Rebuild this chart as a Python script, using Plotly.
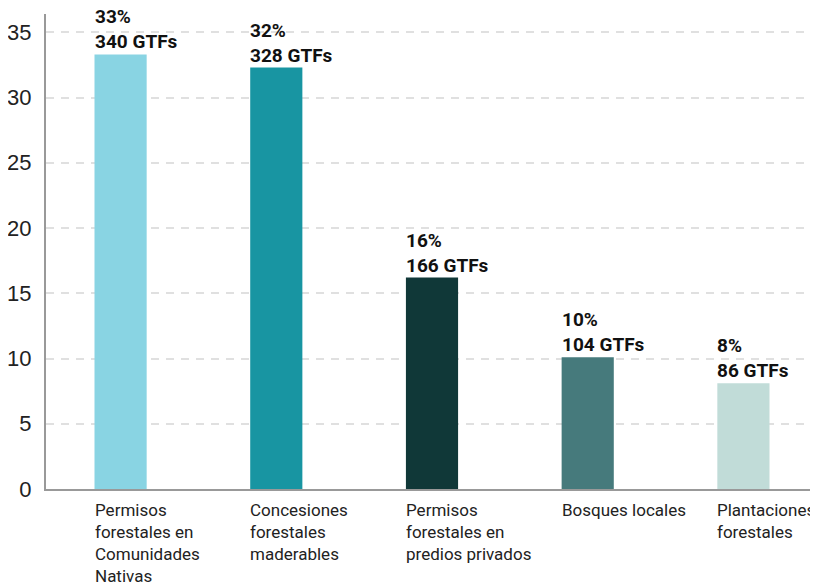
import plotly.graph_objects as go

# data
categories = [
    "Permisos<br>forestales en<br>Comunidades<br>Nativas",
    "Concesiones<br>forestales<br>maderables",
    "Permisos<br>forestales en<br>predios privados",
    "Bosques locales",
    "Plantaciones<br>forestales",
]
values = [33.3, 32.3, 16.2, 10.1, 8.1]
pct_labels = ["33%", "32%", "16%", "10%", "8%"]
gtf_counts = [340, 328, 166, 104, 86]
colors = ["#89D4E3", "#1895A2", "#103838", "#467A7C", "#C1DCD8"]
y_ticks = [0, 5, 10, 15, 20, 25, 30, 35]

idx = list(range(len(categories)))

fig = go.Figure()
fig.add_trace(
    go.Bar(
        x=idx,
        y=values,
        marker=dict(color=colors, line=dict(width=0)),
        width=0.335,
        hoverinfo="skip",
    )
)

# value labels above each bar, left aligned with bar edge
for i, v, p, n in zip(idx, values, pct_labels, gtf_counts):
    fig.add_annotation(
        x=i, y=v, xref="x", yref="y",
        text=f"<b>{p}<br>{n} GTFs</b>",
        showarrow=False, xanchor="left", yanchor="bottom", align="left",
        xshift=-28, yshift=-1,
        font=dict(family="Roboto", size=19, color="#111111"),
    )

# category labels under the axis, left aligned
for i, c in zip(idx, categories):
    fig.add_annotation(
        x=i, y=0, xref="x", yref="y",
        text=c,
        showarrow=False, xanchor="left", yanchor="top", align="left",
        xshift=-28, yshift=-9,
        font=dict(family="Roboto", size=17, color="#222222"),
    )

# the page body adds an 8px offset, so margins are set 8px tighter
fig.update_layout(
    width=818, height=582,
    margin=dict(l=38, r=8, t=6, b=101, autoexpand=False),
    paper_bgcolor="white", plot_bgcolor="white",
    showlegend=False,
    font=dict(family="Roboto"),
    xaxis=dict(
        range=[-0.479, 4.479],
        showticklabels=False, showgrid=False, zeroline=False,
        showline=True, linecolor="#999999", linewidth=2,
        ticks="",
    ),
    yaxis=dict(
        range=[0, 36.4],
        tickvals=y_ticks,
        tickfont=dict(family="Liberation Sans", size=22, color="#222222"),
        ticklabelstandoff=8,
        showgrid=True, gridcolor="#e0e0e0", gridwidth=1.5, griddash="8px,7px",
        zeroline=False,
        showline=True, linecolor="#999999", linewidth=2,
        ticks="", ticklen=0,
    ),
)

fig.write_html("out.html")
